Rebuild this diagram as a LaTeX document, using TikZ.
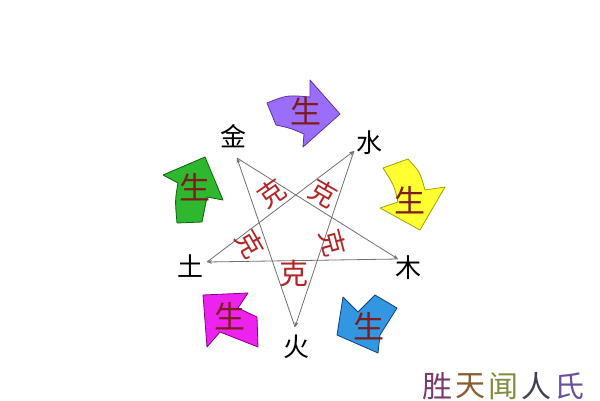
\documentclass[tikz,border=0pt]{standalone}
\usepackage{fontspec}
\newfontfamily\cjk{Noto Sans CJK SC}
\usetikzlibrary{arrows.meta}
\definecolor{sheng}{HTML}{7E1C1C}
\definecolor{ke}{HTML}{B42424}
\definecolor{kline}{HTML}{707070}
\begin{document}
\begin{tikzpicture}[x=1pt,y=-1pt,
  vlabel/.style={font=\cjk\fontsize{26}{26}\selectfont, text=black, inner sep=0pt},
  shenglabel/.style={font=\cjk\fontsize{31}{31}\selectfont, text=sheng, inner sep=0pt},
  kelabel/.style={font=\cjk\fontsize{27}{27}\selectfont, text=ke, inner sep=0pt},
  keline/.style={draw=kline, line width=0.8pt, -{Stealth[length=5pt,width=4pt]}},
  arrowshape/.style={line width=0.8pt, line join=round}]
\useasboundingbox (0,0) rectangle (600,400);
\fill[white] (0,0) rectangle (600,400);
% vertex tips
\coordinate (tJin) at (237,158);
\coordinate (tShui) at (354,151);
\coordinate (tMu) at (398,259);
\coordinate (tTu) at (207,262);
\coordinate (tHuo) at (295,327);
% labels
\node[vlabel] (lJin) at (233,136) {金};
\node[vlabel] (lShui) at (369,143) {水};
\node[vlabel] (lMu) at (408,268) {木};
\node[vlabel] (lTu) at (190,266) {土};
\node[vlabel] (lHuo) at (296,347) {火};
% ke lines
\draw[keline] (tJin) -- (tMu);
\draw[keline] (tMu) -- (tTu);
\draw[keline] (tTu) -- (tShui);
\draw[keline] (tShui) -- (tHuo);
\draw[keline] (tHuo) -- (tJin);
% ke labels
\node[kelabel, rotate=35] (k1) at (272,193) {克};
\node[kelabel, rotate=-30] (k2) at (323,193) {克};
\node[kelabel, rotate=-60] (k3) at (250,244) {克};
\node[kelabel, rotate=-75] (k4) at (333,243) {克};
\node[kelabel, font=\cjk\fontsize{29}{29}\selectfont] (k5) at (294,273) {克};
% sheng arrows
\draw[arrowshape, fill={rgb,255:red,155;green,110;blue,250}, draw={rgb,255:red,96;green,48;blue,160}]
  (267,103) .. controls (287,95) .. (310,97) -- (310,80) -- (340,114) -- (303,147) -- (304,134) .. controls (290,128) .. (276,125) -- cycle;
\node[shenglabel] (s1) at (306,111) {生};
\draw[arrowshape, fill={rgb,255:red,255;green,255;blue,50}, draw={rgb,255:red,160;green,160;blue,0}]
  (383,168) -- (408,159) .. controls (420,172) .. (425,190) -- (445,187) -- (420,230) -- (380,208) -- (398,202) .. controls (394,185) .. (383,168) -- cycle;
\node[shenglabel] (s2) at (410,200) {生};
\draw[arrowshape, fill={rgb,255:red,50;green,150;blue,225}, draw={rgb,255:red,16;green,64;blue,128}]
  (343,297) -- (358,312) -- (375,295) -- (397,308) -- (380,335) -- (378,353) -- (337,335) -- cycle;
\node[shenglabel] (s3) at (369,326) {生};
\draw[arrowshape, fill={rgb,255:red,238;green,34;blue,238}, draw={rgb,255:red,128;green,0;blue,128}]
  (203,295) -- (248,293) -- (238,308) -- (257,317) -- (258,347) -- (220,332) -- (207,347) -- cycle;
\node[shenglabel] (s4) at (230,316) {生};
\draw[arrowshape, fill={rgb,255:red,45;green,184;blue,45}, draw={rgb,255:red,16;green,96;blue,16}]
  (205,157) -- (223,200) -- (207,197) .. controls (204,210) .. (202,222) -- (177,223) .. controls (175,200) .. (178,183) -- (163,175) -- cycle;
\node[shenglabel] (s5) at (195,187) {生};
% watermark
\node[inner sep=0pt, font=\cjk\fontsize{30}{30}\selectfont, text={rgb,255:red,122;green,58;blue,106}] (w1) at (437,386) {胜};
\node[inner sep=0pt, font=\cjk\fontsize{30}{30}\selectfont, text={rgb,255:red,138;green,90;blue,48}] (w2) at (470,386) {天};
\node[inner sep=0pt, font=\cjk\fontsize{30}{30}\selectfont, text={rgb,255:red,130;green,140;blue,64}] (w3) at (503,386) {闻};
\node[inner sep=0pt, font=\cjk\fontsize{30}{30}\selectfont, text={rgb,255:red,64;green,64;blue,80}] (w4) at (536,386) {人};
\node[inner sep=0pt, font=\cjk\fontsize{30}{30}\selectfont, text={rgb,255:red,106;green,80;blue,160}] (w5) at (569,386) {氏};
\end{tikzpicture}
\end{document}
